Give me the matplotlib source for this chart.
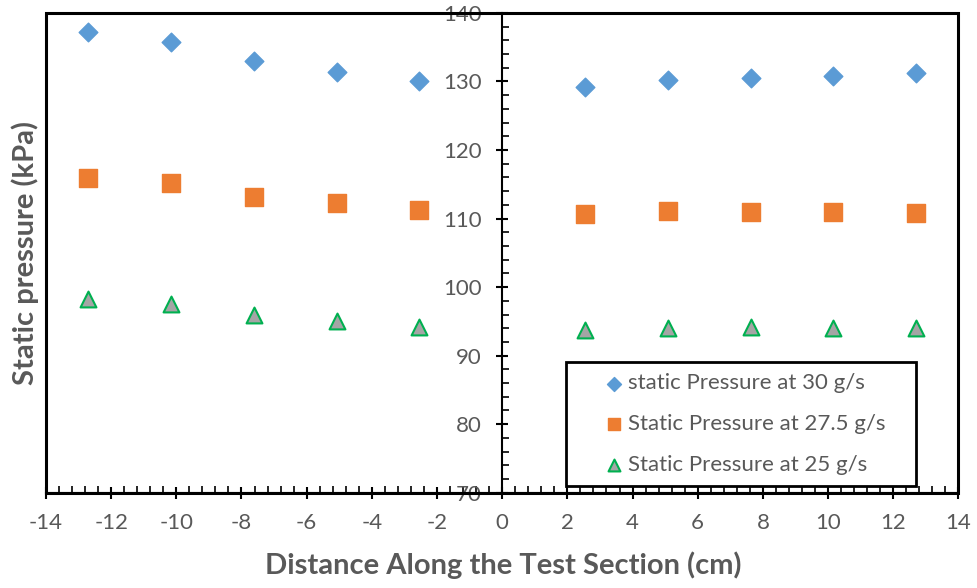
import matplotlib
matplotlib.use('Agg')
import matplotlib.pyplot as plt
from matplotlib.patches import Rectangle
from matplotlib.ticker import MultipleLocator

plt.rcParams['font.family'] = ['Lato', 'DejaVu Sans']
plt.rcParams['axes.unicode_minus'] = False

# distance along the test section (cm)
x = [-12.7, -10.16, -7.62, -5.08, -2.54, 2.54, 5.08, 7.62, 10.16, 12.7]

# static pressure (kPa)
p_30 = [137.2, 135.8, 133.0, 131.4, 130.0, 129.2, 130.2, 130.5, 130.8, 131.2]
p_275 = [115.9, 115.2, 113.2, 112.3, 111.3, 110.7, 111.1, 111.0, 111.0, 110.8]
p_25 = [98.3, 97.6, 96.0, 95.1, 94.2, 93.8, 94.1, 94.2, 94.1, 94.1]

labels = ['static Pressure at 30 g/s', 'Static Pressure at 27.5 g/s',
          'Static Pressure at 25 g/s']

gray = '#595959'

fig = plt.figure(figsize=(9.78, 5.88), dpi=100)
ax = fig.add_axes([0.047, 0.162, 0.933, 0.816])

ax.scatter(x, p_30, marker='D', s=90, color='#5b9bd5', label=labels[0], zorder=3)
ax.scatter(x, p_275, marker='s', s=150, color='#ed7d31', label=labels[1], zorder=3)
ax.scatter(x, p_25, marker='^', s=130, facecolor='#a5a5a5', edgecolor='#00b050',
           linewidth=1.5, label=labels[2], zorder=3)

ax.set_xlim(-14, 14)
ax.set_ylim(70, 140)
ax.xaxis.set_major_locator(MultipleLocator(2))
ax.xaxis.set_minor_locator(MultipleLocator(0.4))
ax.yaxis.set_major_locator(MultipleLocator(10))
ax.yaxis.set_minor_locator(MultipleLocator(2))

# y axis sits at x = 0, outer box drawn separately
ax.spines['left'].set_position(('data', 0))
ax.spines['right'].set_visible(False)
ax.spines['top'].set_visible(False)
for s in ['left', 'bottom']:
    ax.spines[s].set_linewidth(1.5)
ax.add_patch(Rectangle((0, 0), 1, 1, transform=ax.transAxes, fill=False,
                       lw=2.2, edgecolor='black', clip_on=False, zorder=4))

ax.tick_params(axis='both', which='major', direction='inout', length=9, width=1.5,
               labelsize=16, labelcolor=gray)
ax.tick_params(axis='both', which='minor', direction='in', length=5, width=1.2)
ax.tick_params(axis='x', which='major', pad=10)
ax.tick_params(axis='y', which='major', pad=10)

fig.text(0.515, 0.039, 'Distance Along the Test Section (cm)', fontsize=21,
         fontweight='bold', color=gray, ha='center', va='center')
fig.text(0.026, 0.57, 'Static pressure (kPa)', rotation=90, fontsize=21,
         fontweight='bold', color=gray, ha='center', va='center')

# legend frame
ax.add_patch(Rectangle((0.570, 0.0146), 0.384, 0.258, transform=ax.transAxes,
                       facecolor='white', edgecolor='black', lw=2, zorder=5))
leg = ax.legend(loc='upper left', bbox_to_anchor=(0.598, 0.272), fontsize=16,
                frameon=False, handletextpad=0.15, labelspacing=0.94,
                borderpad=0, handlelength=1.0, labelcolor=gray, markerscale=0.75)
leg.set_zorder(6)

fig.savefig('out.png', dpi=100)
plt.close()
